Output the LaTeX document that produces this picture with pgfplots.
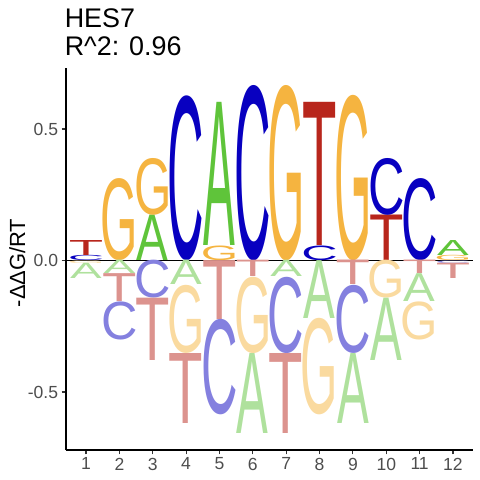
\documentclass[border=0pt]{standalone}
\usepackage{fontspec}
\setmainfont{Liberation Sans}
\usepackage{graphicx}
\usepackage{pgfplots}
\pgfplotsset{compat=1.18}
\usepackage{pgfplotstable}
\newfontfamily\logofont{Liberation Sans}

\definecolor{colA}{RGB}{95,196,58}
\definecolor{colC}{RGB}{8,0,192}
\definecolor{colG}{RGB}{245,180,64}
\definecolor{colT}{RGB}{184,38,28}
\colorlet{colAf}{colA!50!white}
\colorlet{colCf}{colC!50!white}
\colorlet{colGf}{colG!50!white}
\colorlet{colTf}{colT!50!white}
\definecolor{tickgray}{RGB}{77,77,77}
\definecolor{tickline}{RGB}{51,51,51}

\def\wA{31.7}\def\wC{36.4}\def\wG{37.3}\def\wT{34.4}
\def\yunit{263}

\newcommand\logoglyph[3]{%
  \edef\glyphlet{#1}%
  \pgfmathsetmacro\glyphh{max(#2*\yunit,0.3)}%
  \ifdim #3pt<0pt \edef\glyphcol{col\glyphlet f}\else\edef\glyphcol{col\glyphlet}\fi
  \textcolor{\glyphcol}{\resizebox*{\csname w\glyphlet\endcsname bp}{\glyphh bp}{\logofont\glyphlet}}%
}

\pgfplotstableread{
x y0 h L
1 0.000 0.020 C
1 0.020 0.057 T
1 -0.010 0.010 G
1 -0.068 0.058 A
2 0.000 0.312 G
2 -0.051 0.051 A
2 -0.157 0.106 T
2 -0.302 0.145 C
3 0.000 0.173 A
3 0.173 0.216 G
3 -0.144 0.144 C
3 -0.381 0.237 T
4 0.000 0.627 C
4 -0.093 0.093 A
4 -0.352 0.259 G
4 -0.618 0.266 T
5 0.000 0.056 G
5 0.056 0.544 A
5 -0.224 0.224 T
5 -0.587 0.363 C
6 0.000 0.667 C
6 -0.062 0.062 T
6 -0.352 0.290 G
6 -0.656 0.304 A
7 0.000 0.667 G
7 -0.062 0.062 A
7 -0.352 0.290 C
7 -0.656 0.304 T
8 0.000 0.056 C
8 0.056 0.544 T
8 -0.220 0.220 A
8 -0.587 0.367 G
9 0.000 0.629 G
9 -0.093 0.093 T
9 -0.352 0.259 C
9 -0.618 0.266 A
10 0.000 0.173 T
10 0.173 0.216 C
10 -0.144 0.144 G
10 -0.381 0.237 A
11 0.000 0.312 C
11 -0.051 0.051 T
11 -0.157 0.106 A
11 -0.302 0.145 G
12 0.000 0.020 G
12 0.020 0.057 A
12 -0.010 0.010 C
12 -0.068 0.058 T
}\logodata

\begin{document}
\begin{tikzpicture}
\begin{axis}[name=ax, scale only axis, width=407bp, height=381.7bp,
  xmin=0.4, xmax=12.6, ymin=-0.7205, ymax=0.731,
  axis x line*=bottom, axis y line*=left,
  axis line style={line width=1.1bp, black},
  xtick={1,...,12}, ytick={-0.5,0,0.5}, yticklabels={-0.5,0.0,0.5},
  tick align=outside, major tick length=4.4bp,
  tick style={line width=1.1bp, tickline},
  /pgf/number format/assume math mode=true,
  ticklabel style={font=\fontsize{17.6}{20}\selectfont, text=tickgray},
  ylabel={-ΔΔG/RT},
  every axis y label/.style={at={(axis description cs:-0.1007,0.49)}, rotate=90, anchor=base, font=\fontsize{22}{26}\selectfont},
  clip=false]
\addplot[only marks, mark=none,
  point meta=explicit symbolic,
  visualization depends on={\thisrow{h}\as\hv},
  visualization depends on={\thisrow{y0}\as\yv},
  nodes near coords={\logoglyph{\pgfplotspointmeta}{\hv}{\yv}},
  every node near coord/.append style={anchor=center, inner sep=0pt, outer sep=0pt}]
  table[x=x, y expr=\thisrow{y0}+0.5*\thisrow{h}, meta=L] {\logodata};
\addplot[black, line width=0.9bp, forget plot] coordinates {(0.4,0) (12.6,0)};
\end{axis}
\node[anchor=base west, inner sep=0pt, font=\fontsize{27}{30}\selectfont] at ([xshift=-1.4bp, yshift=41bp]ax.north west) {HES7};
\node[anchor=base west, inner sep=0pt, font=\fontsize{27}{30}\selectfont] at ([xshift=-1.4bp, yshift=12.3bp]ax.north west) {R\textasciicircum 2: 0.96};
\pgfresetboundingbox
\useasboundingbox ([xshift=-66bp,yshift=-30bp]ax.south west) rectangle ++(480bp,480bp);
\end{tikzpicture}
\end{document}
